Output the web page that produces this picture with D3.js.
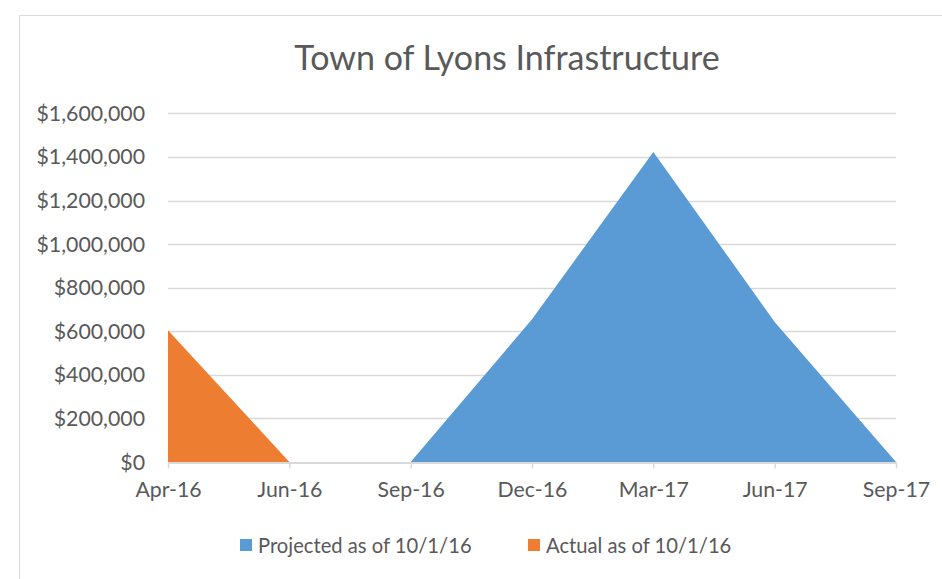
<!DOCTYPE html>
<html>
<head>
<meta charset="utf-8">
<script src="https://cdn.jsdelivr.net/npm/d3@7"></script>
<style>
  body { margin: 0; background: #fff; }
  text { font-family: Lato, "Open Sans", sans-serif; fill: #595959; }
</style>
</head>
<body>
<div id="chart"></div>
<script>
// data
var categories = ["Apr-16", "Jun-16", "Sep-16", "Dec-16", "Mar-17", "Jun-17", "Sep-17"];
var projected = [null, null, 0, 655000, 1423000, 643000, 0];
var actual = [605000, 0, null, null, null, null, null];
var yTicks = [0, 200000, 400000, 600000, 800000, 1000000, 1200000, 1400000, 1600000];
var seriesNames = ["Projected as of 10/1/16", "Actual as of 10/1/16"];
var colors = ["#5b9bd5", "#ed7d31"];

var W = 942, H = 579;

var svg = d3.select("#chart")
  .append("svg")
    .attr("width", W)
    .attr("height", H);

// chart frame
svg.append("rect")
  .attr("x", 19.5).attr("y", 15.5)
  .attr("width", 1000).attr("height", 1000)
  .attr("fill", "none")
  .attr("stroke", "#d9d9d9");

// title
svg.append("text")
  .attr("x", 507).attr("y", 70)
  .attr("text-anchor", "middle")
  .style("font-size", "34px")
  .text("Town of Lyons Infrastructure");

var x = d3.scalePoint()
  .domain(categories)
  .range([168, 896]);

var y = d3.scaleLinear()
  .domain([0, 1600000])
  .range([462, 113.4]);

// gridlines
svg.append("g")
  .selectAll("line")
  .data(yTicks.slice(1))
  .enter()
  .append("line")
    .attr("x1", 168).attr("x2", 896)
    .attr("y1", function (d) { return Math.round(y(d)) + 0.5; })
    .attr("y2", function (d) { return Math.round(y(d)) + 0.5; })
    .attr("stroke", "#d9d9d9")
    .attr("stroke-width", 1.3);

// y labels
var fmt = d3.format(",");
svg.append("g")
  .selectAll("text")
  .data(yTicks)
  .enter()
  .append("text")
    .attr("x", 145)
    .attr("y", function (d) { return y(d) + 7.5; })
    .attr("text-anchor", "end")
    .style("font-size", "21.3px")
    .text(function (d) { return "$" + fmt(d); });

// areas
var series = [projected, actual];
series.forEach(function (vals, i) {
  var pts = categories.map(function (c, j) { return {c: c, v: vals[j]}; });
  var area = d3.area()
    .defined(function (d) { return d.v !== null; })
    .x(function (d) { return x(d.c); })
    .y0(y(0))
    .y1(function (d) { return y(d.v); });
  svg.append("path")
    .datum(pts)
    .attr("d", area)
    .attr("fill", colors[i]);
});

// x axis
var xAxis = svg.append("g")
  .attr("transform", "translate(0," + (Math.round(y(0)) + 0.5) + ")")
  .call(d3.axisBottom(x).tickSize(6).tickSizeOuter(0).tickPadding(13));
xAxis.select(".domain").attr("stroke", "#d9d9d9").attr("stroke-width", 2);
xAxis.selectAll(".tick line").attr("stroke", "#d9d9d9").attr("stroke-width", 1.5);
xAxis.selectAll(".tick text")
  .style("font-size", "21.3px")
  .style("font-family", "Lato, sans-serif")
  .attr("fill", "#595959");

// legend
var legendX = [240, 528];
var legend = svg.append("g")
  .selectAll("g")
  .data(seriesNames)
  .enter()
  .append("g")
    .attr("transform", function (d, i) { return "translate(" + legendX[i] + ",539)"; });

legend.append("rect")
  .attr("width", 12)
  .attr("height", 12)
  .attr("fill", function (d, i) { return colors[i]; });

legend.append("text")
  .attr("x", 18)
  .attr("y", 13.5)
  .style("font-size", "20.2px")
  .text(function (d) { return d; });
</script>
</body>
</html>
